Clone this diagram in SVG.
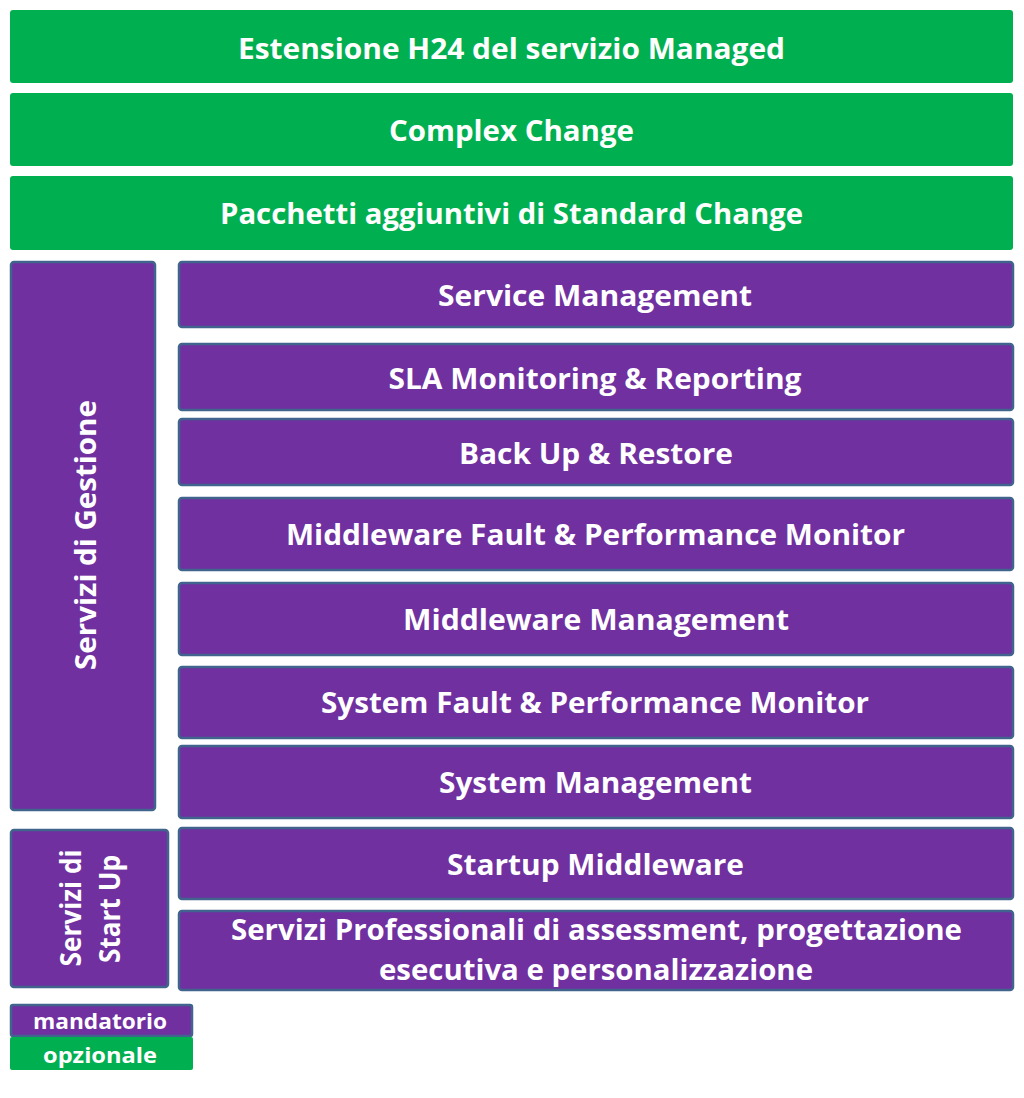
<svg xmlns="http://www.w3.org/2000/svg" width="1024" height="1098" viewBox="0 0 1024 1098">
<style>
.g{fill:#00b050;}
.p{fill:#7030a0;stroke:#41648f;stroke-width:2.5;}
text{font-family:"Open Sans","Noto Sans",sans-serif;font-weight:700;fill:#ffffff;text-anchor:middle;}
.t{font-size:29px;}
.l{font-size:22px;}
</style>
<rect width="1024" height="1098" fill="#ffffff"/>
<g id="n1"><rect class="g" x="10" y="10" width="1003" height="73" rx="3"/><text class="t" x="511.5" y="59" textLength="547" lengthAdjust="spacingAndGlyphs">Estensione H24 del servizio Managed</text></g>
<g id="n2"><rect class="g" x="10" y="93" width="1003" height="73" rx="3"/><text class="t" x="511.5" y="141" textLength="245" lengthAdjust="spacingAndGlyphs">Complex Change</text></g>
<g id="n3"><rect class="g" x="10" y="176" width="1003" height="74" rx="3"/><text class="t" x="511.5" y="224" textLength="583" lengthAdjust="spacingAndGlyphs">Pacchetti aggiuntivi di Standard Change</text></g>
<g id="n4"><rect class="p" x="11" y="262" width="144" height="548" rx="3"/><text class="t" transform="translate(96 535) rotate(-90)" x="0" y="0" textLength="270" lengthAdjust="spacingAndGlyphs">Servizi di Gestione</text></g>
<g id="n5"><rect class="p" x="179" y="262" width="834" height="65" rx="3"/><text class="t" x="595" y="306" textLength="314" lengthAdjust="spacingAndGlyphs">Service Management</text></g>
<g id="n6"><rect class="p" x="179" y="344" width="834" height="66" rx="3"/><text class="t" x="595" y="389" textLength="413" lengthAdjust="spacingAndGlyphs">SLA Monitoring &amp; Reporting</text></g>
<g id="n7"><rect class="p" x="179" y="419" width="834" height="66" rx="3"/><text class="t" x="596" y="464" textLength="274" lengthAdjust="spacingAndGlyphs">Back Up &amp; Restore</text></g>
<g id="n8"><rect class="p" x="179" y="498" width="834" height="72" rx="3"/><text class="t" x="595.5" y="545" textLength="619" lengthAdjust="spacingAndGlyphs">Middleware Fault &amp; Performance Monitor</text></g>
<g id="n9"><rect class="p" x="179" y="583" width="834" height="72" rx="3"/><text class="t" x="596" y="630" textLength="386" lengthAdjust="spacingAndGlyphs">Middleware Management</text></g>
<g id="n10"><rect class="p" x="179" y="667" width="834" height="71" rx="3"/><text class="t" x="595" y="713" textLength="548" lengthAdjust="spacingAndGlyphs">System Fault &amp; Performance Monitor</text></g>
<g id="n11"><rect class="p" x="179" y="746" width="834" height="72" rx="3"/><text class="t" x="595.5" y="793" textLength="313" lengthAdjust="spacingAndGlyphs">System Management</text></g>
<g id="n12"><rect class="p" x="11" y="830" width="157" height="157" rx="3"/><text class="t" transform="translate(81 908) rotate(-90)" x="0" y="0" textLength="117" lengthAdjust="spacingAndGlyphs">Servizi di</text><text class="t" transform="translate(120 909) rotate(-90)" x="0" y="0" textLength="108" lengthAdjust="spacingAndGlyphs">Start Up</text></g>
<g id="n13"><rect class="p" x="179" y="828" width="834" height="71" rx="3"/><text class="t" x="595.5" y="875" textLength="297" lengthAdjust="spacingAndGlyphs">Startup Middleware</text></g>
<g id="n14"><rect class="p" x="179" y="911" width="834" height="79" rx="3"/><text class="t" x="596.5" y="940" textLength="731" lengthAdjust="spacingAndGlyphs">Servizi Professionali di assessment, progettazione</text><text class="t" x="596" y="980" textLength="434" lengthAdjust="spacingAndGlyphs">esecutiva e personalizzazione</text></g>
<g id="legend1"><rect class="p" x="11" y="1005" width="181" height="31" rx="2"/><text class="l" x="100" y="1029" textLength="134" lengthAdjust="spacingAndGlyphs">mandatorio</text></g>
<g id="legend2"><rect class="g" x="10" y="1037" width="183" height="33" rx="2"/><text class="l" x="100" y="1063" textLength="114" lengthAdjust="spacingAndGlyphs">opzionale</text></g>
<g id="connectors"></g>
</svg>
